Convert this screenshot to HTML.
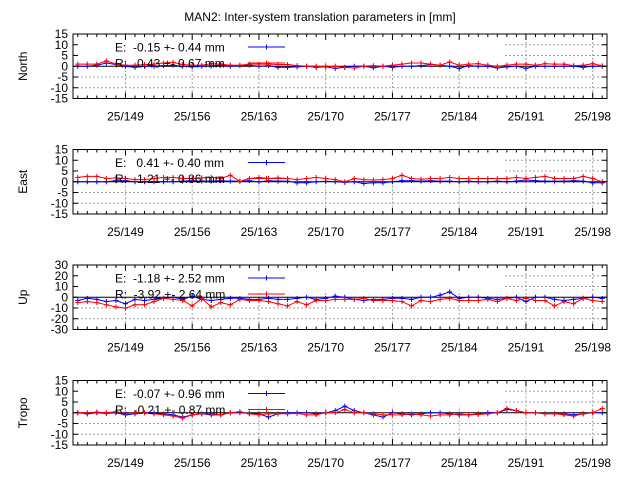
<!DOCTYPE html>
<html><head><meta charset="utf-8"><style>
body{margin:0;background:#fff;}
svg{display:block;font-family:"Liberation Sans",sans-serif;}
svg text{white-space:pre;}
</style></head><body>
<svg id="c" width="640" height="480" viewBox="0 0 640 480">
<text x="320" y="21" font-size="12" text-anchor="middle">MAN2: Inter-system translation parameters in [mm]</text>
</svg>
<script>
const days = [];
for (let d = 144; d <= 199; d++) days.push(d);
const tickDays = [149,156,163,170,177,184,191,198];
const tickLabels = ["25/149","25/156","25/163","25/170","25/177","25/184","25/191","25/198"];
const panelNames = ["North","East","Up","Tropo"];
const panelYTicks = [[15,10,5,0,-5,-10,-15],[15,10,5,0,-5,-10,-15],[30,20,10,0,-10,-20,-30],[15,10,5,0,-5,-10,-15]];
const legendE = ["E:  -0.15 +- 0.44 mm","E:   0.41 +- 0.40 mm","E:  -1.18 +- 2.52 mm","E:  -0.07 +- 0.96 mm"];
const legendR = ["R:   0.43 +- 0.67 mm","R:   1.21 +- 0.86 mm","R:  -3.92 +- 2.64 mm","R:  -0.21 +- 0.87 mm"];
const northE = [0,0,0.5,1.5,0.8,0,-0.5,0,0,0.3,0.5,0,-0.3,0,0.2,0.5,0,0.3,0.5,0,0.3,-0.5,-0.5,-0.3,0,-0.5,-0.3,-1,-0.5,0,0,-0.7,0,-0.5,0,0,0.3,0.8,0.5,0,-1,0.3,0,0,-0.8,-0.3,0,-1,0,0,0,0,0,-0.5,0,0];
const northR = [1,1,1,2.5,1,0.5,0.5,0.8,1,1.5,1.8,0.8,0.5,0.5,1.2,1,0.5,0.5,1,1,1,0.8,0.8,0.3,0,0,-0.3,0,-0.5,-0.8,0,0.3,0,0.5,1,1.5,1.5,1,0.5,2,0.5,1,1.2,0.5,0,0.5,1,1,0.5,1.2,1,1,0.3,0.5,1.2,0.2];
const eastE = [0,0,0,0,0.5,0.5,0,0,0,0,0,0.3,0.5,0.3,0.3,0.5,0.3,0.3,0.5,0,0.5,0.3,0.3,-0.5,-0.5,0,0.2,0,-0.3,0,-0.8,-0.5,-0.5,0,0.5,0.5,0.3,0.5,0.3,0.3,0,0.3,0,0,0.3,0,0.3,0.8,0.5,0.3,0.3,0.3,0.5,0.3,-0.5,-0.5];
const eastR = [2,2.5,2.5,1.5,1.8,1.5,1,1,1.5,2,2,1.5,1.5,1.8,2,1.5,3,0.2,1.5,2,1.5,1.8,1.5,1,1.5,2,1.5,1,0,1.5,1,0.8,1,1.5,3,1.5,1.2,1.5,1.5,2,1.5,1.5,1.5,1.5,1.5,1.5,2,1.5,2,2.5,1.5,1.5,1.5,2.5,1.5,0];
const upE = [-3,-1,-2,-4,-3,-6,-2,-3,-2,-1,0,-2,1,-2,-3,-2,-1,-1,-2,-2,-1,-2,-2,-1,0,-2,-1,1,0,-2,-3,-2,-2,-1,-1,-2,0,0,2,5,-1,0,0,-1,-2,-1,0,-4,0,0,-2,-3,-2,-1,0,-1];
const upR = [-5,-4,-5,-7,-9,-10,-7,-7,-4,-1,-2,-3,-8,-1,-9,-5,-7,-2,-3,-3,-4,-6,-8,-4,-7,-3,-3,-2,-2,-2,-1,-3,-3,-3,-4,-8,-3,-4,-2,-1,-3,-3,-3,-2,-4,-1,-3,-1,-3,-3,-8,-4,-6,-1,-3,-4];
const tropoE = [0,-0.5,0,-0.3,0,-1,-0.5,0,0,-0.5,-1,-2,-1,-0.5,-1,-1,0,0,-0.3,-0.5,-2,-0.5,0,0,0,-0.5,0,1,3,1,0,-1,-2,0,-0.5,-1,-0.5,0,0,-0.5,-1,-1,-0.5,0,0,1.5,1,0,0,-0.5,-0.5,-0.5,-1,-0.5,0,0];
const tropoR = [0,0,0.3,0,0.5,-0.5,0,0,-0.5,-1,-1.5,-2.5,-1,-0.5,-0.5,-1,0,0.5,-0.5,-1,-0.5,-0.5,-0.5,-0.3,-1,-1,0,0,1.5,0,0,-0.5,-1,-1,-1,-0.5,-1,-1.5,-1,-1,-0.5,-1,-0.8,-0.5,0,2,1,0,0,-0.5,-0.5,-1,-1.5,-0.5,0,2];
const seriesE = [northE,eastE,upE,tropoE];
const seriesR = [northR,eastR,upR,tropoR];

const NS = "http://www.w3.org/2000/svg";
const svg = document.getElementById('c');
function mk(tag, attrs, parent){const e=document.createElementNS(NS,tag);for(const k in attrs)e.setAttribute(k,attrs[k]);(parent||svg).appendChild(e);return e;}
const L=73, R=607, dMin=143.5, dMax=199.5;
const xs = d => L + (d - dMin) / (dMax - dMin) * (R - L);
const tops = [34,149.5,265,380.5], H = 64.5;

panelNames.forEach((name, p) => {
  const T = tops[p], B = T + H, yt = panelYTicks[p], ymax = yt[0], ymin = yt[yt.length-1];
  const ys = v => T + (ymax - v) / (ymax - ymin) * H;
  const g = mk('g', {});
  
  
  tickDays.forEach(d => {
    const ln = mk('line', {x1: xs(d), x2: xs(d), y1: T, y2: B, stroke: '#a0a0a0', 'stroke-dasharray': '2,2', 'stroke-width': 1}, g);
    
    
  });
  yt.slice(1, -1).forEach(v => {
    if (v === 0) return;
    const ln = mk('line', {x1: L, x2: R, y1: ys(v), y2: ys(v), stroke: '#a0a0a0', 'stroke-dasharray': '2,2', 'stroke-width': 1}, g);
    
    
  });
  const lb = mk('rect', {x: L + 1, y: T + 1, width: 430, height: ys(yt[2]) - T + 3, fill: '#fff'}, g);
  
  
  const z = mk('line', {x1: L, x2: R, y1: ys(0), y2: ys(0), stroke: '#000', 'stroke-width': 1}, g);
  
  
  [[seriesE[p], '#0000ff', 'series-e'], [seriesR[p], '#ff0000', 'series-r']].forEach(([vals, col, nm]) => {
    const pts = vals.map((v, i) => xs(days[i]).toFixed(1) + ',' + ys(v).toFixed(1)).join(' ');
    const pl = mk('polyline', {points: pts, fill: 'none', stroke: col, 'stroke-width': 1}, g);
    
    
    vals.forEach((v, i) => {
      const x = xs(days[i]), y = ys(v);
      const m = mk('path', {d: `M${x-2.5},${y}h5M${x},${y-2.5}v5`, stroke: col, 'stroke-width': 1}, g);
      
      
    });
  });
  [[legendE[p], '#0000ff', T + 13], [legendR[p], '#ff0000', T + 29]].forEach(([txt, col, y], k) => {
    const t = mk('text', {x: 115, y: y + 4.5, 'font-size': 12, fill: '#000', 'xml:space': 'preserve'}, g);
    t.textContent = txt;
    
    
    const s = mk('path', {d: `M248,${y}H285M266.5,${y-2.5}v5`, stroke: col, 'stroke-width': 1}, g);
    
    
  });
  const fr = mk('rect', {x: L, y: T, width: R - L, height: H, fill: 'none', stroke: '#000', 'stroke-width': 1}, g);
  
  
  for (let d = 144; d <= 199; d++) {
    const major = tickDays.includes(d), len = major ? 6 : 3;
    mk('path', {d: `M${xs(d)},${B}v${-len}M${xs(d)},${T}v${len}`, stroke: '#000', 'stroke-width': 1}, g);
  }
  tickDays.forEach((d, i) => {
    const t = mk('text', {x: xs(d), y: B + 22, 'font-size': 12, 'text-anchor': 'middle'}, g);
    t.textContent = tickLabels[i];
    
    
  });
  yt.forEach(v => {
    mk('path', {d: `M${L},${ys(v)}h5M${R},${ys(v)}h-5`, stroke: '#000', 'stroke-width': 1}, g);
    const t = mk('text', {x: 68, y: ys(v) + 4, 'font-size': 12, 'text-anchor': 'end'}, g);
    t.textContent = v;
    
    
  });
  const yl = mk('text', {x: 0, y: 0, 'font-size': 12, 'text-anchor': 'middle', transform: `translate(27,${T + H/2}) rotate(-90)`}, g);
  yl.textContent = name;
  
  
});
</script>
</body></html>
